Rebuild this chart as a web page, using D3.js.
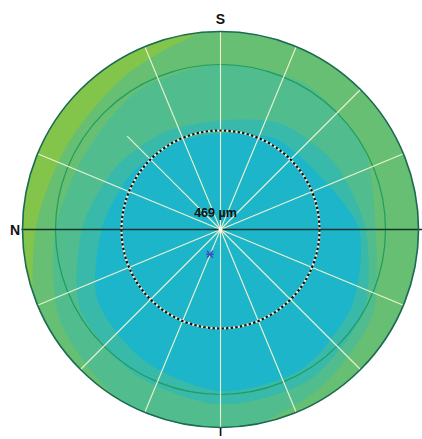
<!DOCTYPE html>
<html><head><meta charset="utf-8">
<script src="https://cdn.jsdelivr.net/npm/d3@7"></script>
<style>html,body{margin:0;padding:0;background:#fff;}svg{display:block;}</style>
</head><body>
<svg id="c" width="422" height="439"></svg>
<script>
// ---- data ----
// sample angles (deg, clockwise from S at top)
const angles = [0,30,60,90,120,150,180,210,240,270,300,330];
// radius (mm) where pachymetry crosses each isoline
const edge500 = [2.9,3.2,3.4,4.2,4.6,4.9,4.9,4.6,4.3,3.6,3.2,3.0];
const edge530 = [3.3,3.7,4.0,4.4,5.0,5.3,5.3,5.1,4.9,4.2,3.7,3.4];
const edge560 = [5.0,5.1,5.0,4.7,5.3,5.7,6.2,6.0,5.6,5.0,4.7,4.9];
const edge590 = [6.1,6.2,6.2,6.2,6.2,6.2,6.3,6.3,6.3,5.6,5.3,5.5];
const levels = [500,530,560,590];           // µm
const zoneColors = ["#1cb5ca","#38b9aa","#51bd8e","#66bf72","#83c44b"];
const rings = [3, 5];                        // mm circles (3 = dashed)
const mapRadius = 6;                         // mm
const spokeAngles = d3.range(0,360,22.5);
const partialSpoke = 315, partialLen = 4.0;  // mm
const centralValue = 469;
const centerLabel = centralValue + " µm";
const pupilOffset = [-0.32, 0.75];           // mm (x right, y down)
const compass = [{t:"S",a:0},{t:"N",a:270},{t:"I",a:180}];

// ---- drawing ----
const svg = d3.select("#c");
const cx = 220.5, cy = 229.5, R = 198;
const r = d3.scaleLinear().domain([0,mapRadius]).range([0,R]);
const g = svg.append("g").attr("transform",`translate(${cx},${cy})`);

svg.append("defs").append("clipPath").attr("id","disc")
  .append("circle").attr("r",R);
const mapG = g.append("g").attr("clip-path","url(#disc)");

mapG.append("circle").attr("r",R).attr("fill",zoneColors[4]);
const radial = d3.lineRadial().curve(d3.curveCardinalClosed.tension(0.2))
  .angle(d=>d[0]*Math.PI/180).radius(d=>r(d[1]));
[edge590,edge560,edge530,edge500].forEach((edge,i)=>{
  mapG.append("path")
    .attr("d", radial(angles.map((a,j)=>[a,edge[j]])))
    .attr("fill", zoneColors[3-i]);
});

// 5 mm ring
g.append("circle").attr("r",r(rings[1])).attr("fill","none")
  .attr("stroke","#1f9c5e").attr("stroke-width",1.2);

// spokes
spokeAngles.forEach(a=>{
  if (a===90 || a===270) return;
  const len = a===partialSpoke ? r(partialLen) : R;
  const t = a*Math.PI/180;
  g.append("line").attr("x1",0).attr("y1",0)
    .attr("x2",len*Math.sin(t)).attr("y2",-len*Math.cos(t))
    .attr("stroke","#eef2cf").attr("stroke-width",1.1);
});

// dashed 3 mm circle
g.append("circle").attr("r",r(rings[0])).attr("fill","none")
  .attr("stroke","#e6efe0").attr("stroke-width",2.2);
g.append("circle").attr("r",r(rings[0])).attr("fill","none")
  .attr("stroke","#111").attr("stroke-width",2.2).attr("stroke-dasharray","2.4,2.2");

// horizontal dark axis
g.append("line").attr("x1",-R-1).attr("x2",422-cx).attr("y1",0).attr("y2",0)
  .attr("stroke","#12352c").attr("stroke-width",1.6);

// outer circle
g.append("circle").attr("r",R).attr("fill","none")
  .attr("stroke","#1b6b52").attr("stroke-width",1.6);

// center dot
g.append("circle").attr("r",2).attr("fill","#fff");

// pupil marker
const px = r(pupilOffset[0]), py = r(pupilOffset[1]);
const pm = g.append("g").attr("transform",`translate(${px},${py})`)
  .attr("stroke","#3a4fc4").attr("stroke-width",1.4);
pm.append("line").attr("x1",-4).attr("x2",4).attr("y1",0).attr("y2",0);
pm.append("line").attr("x1",-3).attr("x2",3).attr("y1",-3.5).attr("y2",3.5);
pm.append("line").attr("x1",3).attr("x2",-3).attr("y1",-3.5).attr("y2",3.5);

// central value
g.append("text").attr("x",-5).attr("y",-13).attr("text-anchor","middle")
  .attr("font-family","Liberation Sans, Arial, sans-serif").attr("font-weight","bold")
  .attr("font-size",12.5).attr("fill","#111").text(centerLabel);

// compass labels
const lab = {S:[0,-206], N:[-205.5,5], I:[0,206.5]};
compass.forEach(c=>{
  g.append("text").attr("x",lab[c.t][0]).attr("y",lab[c.t][1])
    .attr("text-anchor","middle")
    .attr("font-family","Liberation Sans, Arial, sans-serif").attr("font-weight","bold")
    .attr("font-size",c.t==="I"?11:14).attr("fill","#111").text(c.t);
});
</script>
</body></html>
